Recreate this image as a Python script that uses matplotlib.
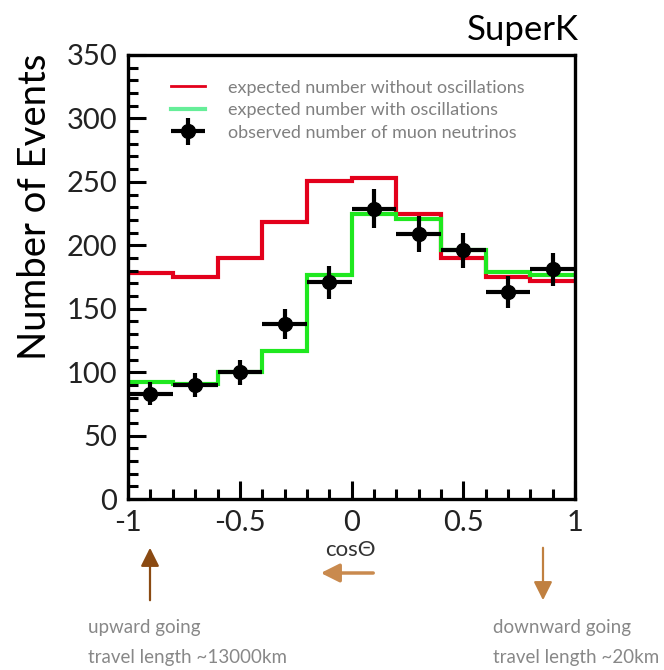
import matplotlib
matplotlib.use("Agg")
import matplotlib.pyplot as plt
import numpy as np
from matplotlib.lines import Line2D
from matplotlib.patches import FancyArrowPatch
from matplotlib.legend_handler import HandlerErrorbar
from matplotlib.ticker import MultipleLocator

plt.rcParams['font.family'] = ['Lato', 'DejaVu Sans']

# cos(theta) bin edges and contents
edges = [-1.0, -0.8, -0.6, -0.4, -0.2, 0.0, 0.2, 0.4, 0.6, 0.8, 1.0]
no_osc = [178, 175, 190, 218, 251, 253, 225, 190, 175, 172]
with_osc = [92, 91, 100, 117, 177, 225, 221, 196, 179, 177]
centers = [-0.9, -0.7, -0.5, -0.3, -0.1, 0.1, 0.3, 0.5, 0.7, 0.9]
observed = [83, 90, 100, 138, 171, 229, 209, 196, 163, 181]
obs_err = [9, 9.5, 10, 11.5, 13, 15, 14, 13.5, 12.5, 13]
bin_half = [0.1] * 10

fig = plt.figure(figsize=(6.64, 6.70), dpi=100)
ax = fig.add_axes([0.193, 0.255, 0.673, 0.663])

ax.stairs(no_osc, edges, color='#e3001b', lw=3, baseline=None)
ax.stairs(with_osc, edges, color='#1fe81f', lw=3, baseline=None)
obs = ax.errorbar(centers, observed, yerr=obs_err, xerr=bin_half, fmt='o', color='black',
                  ms=10, elinewidth=3, capsize=0)

ax.set_xlim(-1, 1)
ax.set_ylim(0, 350)
ax.xaxis.set_minor_locator(MultipleLocator(0.1))
ax.yaxis.set_major_locator(MultipleLocator(50))
ax.yaxis.set_minor_locator(MultipleLocator(10))
ax.set_xticks([-1, -0.5, 0, 0.5, 1])
ax.set_xticklabels(['-1', '-0.5', '0', '0.5', '1'])
ax.tick_params(which='both', direction='in', top=False, right=False, width=2.2,
               labelsize=21, labelcolor='#222222')
ax.tick_params(which='major', length=13, pad=8)
ax.tick_params(which='minor', length=7)
for s in ax.spines.values():
    s.set_linewidth(2.4)

fig.text(35/664, 1-207/670, 'Number of Events', fontsize=27.5, rotation=90,
         ha='center', va='center')

handles = [
    Line2D([], [], color='#e3001b', lw=2),
    Line2D([], [], color='#66ee99', lw=3),
    obs,
]
labels = ['expected number without oscillations',
          'expected number with oscillations',
          'observed number of muon neutrinos']
ax.legend(handles, labels, loc='upper left', bbox_to_anchor=(0.075, 0.965),
          frameon=False, fontsize=13, labelcolor='#808080', handlelength=1.9,
          handletextpad=1.3, labelspacing=0.36, borderpad=0, numpoints=1,
          handler_map={obs: HandlerErrorbar(xerr_size=0.95, yerr_size=0.75)})

fig.text(0.871, 0.955, 'SuperK', fontsize=25, ha='right', va='center')
fig.text(0.527, 1-550/670, 'cos\u0398', fontsize=16, ha='center', va='center', color='#333333')

arrow = dict(arrowstyle='-|>,head_length=0.8,head_width=0.4', lw=1.6,
             transform=fig.transFigure, mutation_scale=14)
fig.add_artist(FancyArrowPatch((150/664, 1-603/670), (150/664, 1-545/670),
                               color='#8a4a12', **arrow))
fig.add_artist(FancyArrowPatch((376/664, 1-573/670), (318/664, 1-573/670),
                               color='#c98a4e', **dict(arrow, lw=2.5)))
fig.add_artist(FancyArrowPatch((543/664, 1-545/670), (543/664, 1-603/670),
                               color='#c08040', **arrow))

small = dict(fontsize=13.5, color='#888888', ha='left', va='center')
fig.text(88/664, 1-628/670, 'upward going', **small)
fig.text(88/664, 1-657/670, 'travel length ~13000km', **small)
fig.text(493/664, 1-628/670, 'downward going', **small)
fig.text(493/664, 1-657/670, 'travel length ~20km', **small)

fig.savefig('out.png', dpi=100)
